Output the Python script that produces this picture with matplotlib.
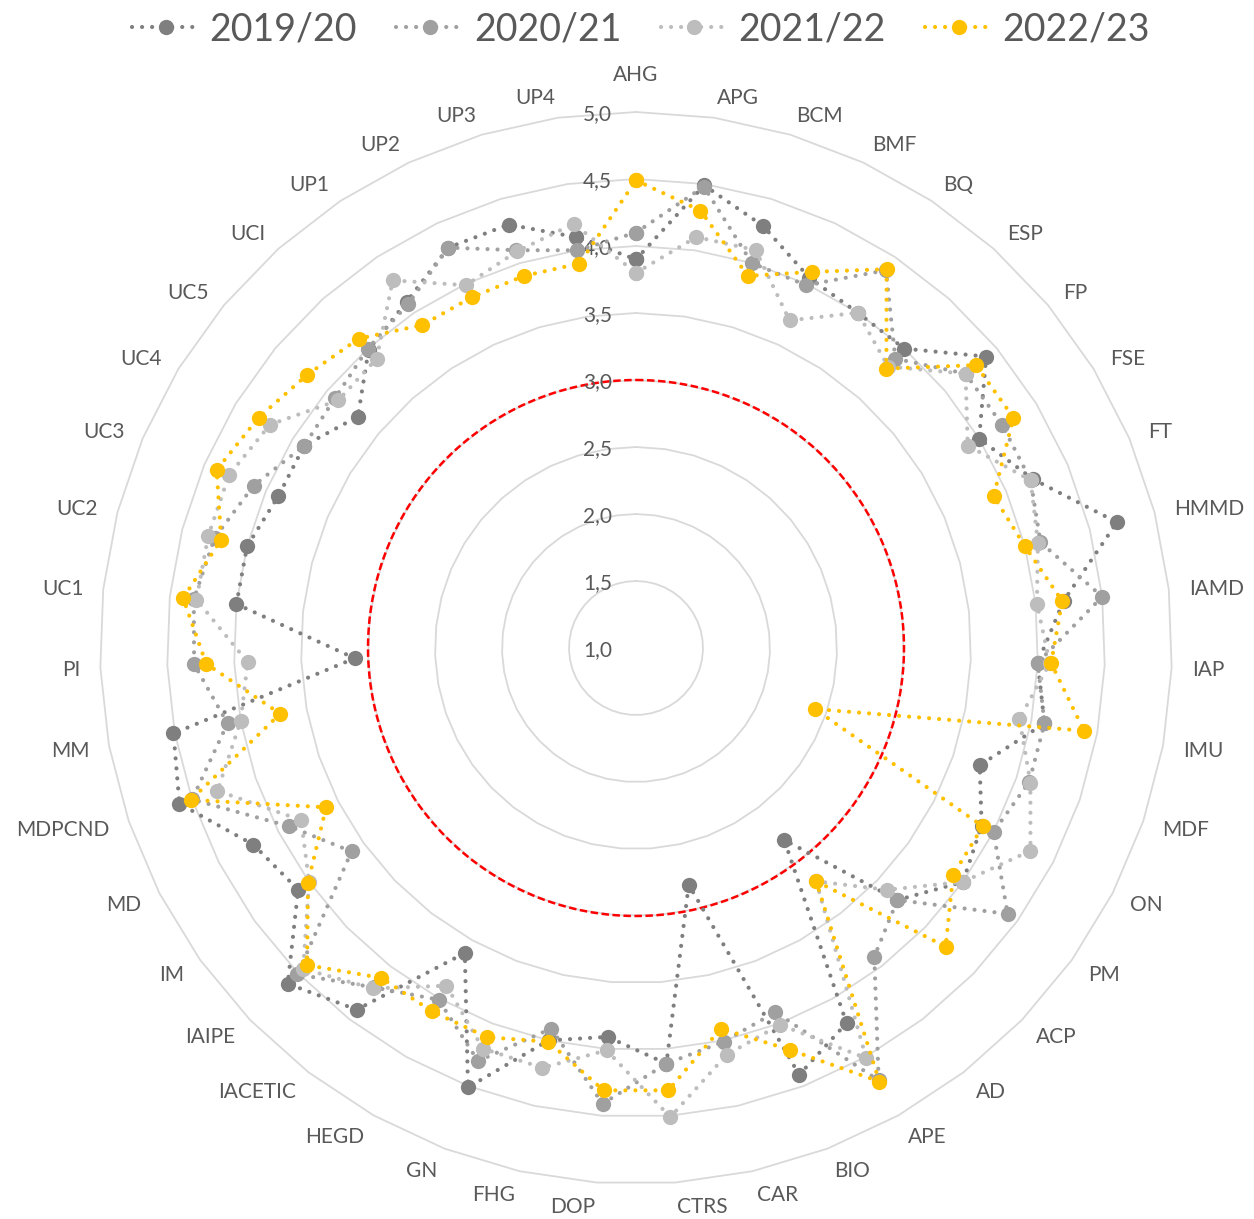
import numpy as np
import matplotlib
matplotlib.use("Agg")
import matplotlib.pyplot as plt
from matplotlib.transforms import ScaledTranslation

plt.rcParams['font.family'] = ['Lato', 'DejaVu Sans']

# ---------------- data ----------------
categories = ['AHG', 'APG', 'BCM', 'BMF', 'BQ', 'ESP', 'FP', 'FSE', 'FT', 'HMMD',
              'IAMD', 'IAP', 'IMU', 'MDF', 'ON', 'PM', 'ACP', 'AD', 'APE', 'BIO',
              'CAR', 'CTRS', 'DOP', 'FHG', 'GN', 'HEGD', 'IACETIC', 'IAIPE', 'IM',
              'MD', 'MDPCND', 'MM', 'PI', 'UC1', 'UC2', 'UC3', 'UC4', 'UC5', 'UCI',
              'UP1', 'UP2', 'UP3', 'UP4']

s_2019_20 = [3.90, 4.49, 4.29, 4.05, 4.00, 4.00, 4.40, 4.00, 4.22, 4.71,
             4.21, 4.00, 4.10, 3.71, 3.90, 4.00, 3.71, 2.81, 4.21, 4.41,
             2.81, 4.11, 3.91, 4.00, 4.51, 3.61, 4.41, 4.61, 4.10,
             4.21, 4.60, 4.51, 3.10, 4.00, 4.00, 3.90, 3.90, 3.70, 3.99,
             4.10, 4.30, 4.30, 4.10]
s_2020_21 = [4.10, 4.48, 4.00, 3.99, 4.38, 3.90, 4.20, 4.20, 4.20, 4.12,
             4.50, 4.00, 4.10, 4.10, 4.00, 4.41, 3.71, 3.91, 4.70, 3.91,
             4.01, 4.11, 4.41, 3.91, 4.30, 4.01, 4.20, 4.51, 3.61,
             3.91, 4.50, 4.10, 4.30, 4.32, 4.25, 4.10, 3.90, 3.92, 4.00,
             4.08, 4.30, 4.10, 4.00]
s_2021_22 = [3.80, 4.10, 4.10, 3.70, 4.00, 3.82, 4.20, 3.90, 4.20, 4.10,
             4.01, 4.09, 3.91, 4.11, 4.31, 4.00, 3.60, 3.20, 4.51, 4.01,
             4.11, 4.51, 4.01, 4.21, 4.20, 3.89, 4.21, 4.45, 4.00,
             3.81, 4.30, 4.00, 3.90, 4.30, 4.30, 4.30, 4.20, 3.89, 3.90,
             4.29, 3.99, 4.09, 4.20]
s_2022_23 = [4.49, 4.30, 3.90, 4.10, 4.39, 3.80, 4.30, 4.30, 3.90, 4.00,
             4.20, 4.10, 4.40, 2.41, 3.91, 3.91, 4.21, 3.20, 4.71, 4.21,
             3.91, 4.31, 4.31, 4.01, 4.11, 4.11, 4.11, 4.41, 4.01,
             3.60, 4.51, 3.70, 4.21, 4.40, 4.20, 4.40, 4.30, 4.19, 4.10,
             3.89, 3.89, 3.90, 3.90]

series_names = ['2019/20', '2020/21', '2021/22', '2022/23']
series_values = [s_2019_20, s_2020_21, s_2021_22, s_2022_23]
series_colors = ['#7F7F7F', '#A0A0A0', '#BDBDBD', '#FFC000']

r_ticks = [1.0, 1.5, 2.0, 2.5, 3.0, 3.5, 4.0, 4.5, 5.0]
r_tick_labels = ['1,0', '1,5', '2,0', '2,5', '3,0', '3,5', '4,0', '4,5', '5,0']
threshold = 3.0

# ---------------- figure ----------------
W, H, DPI = 1254, 1219, 100
fig = plt.figure(figsize=(W / DPI, H / DPI), dpi=DPI)
cx, cy, R = 636, 648, 536
ax = fig.add_axes([(cx - R) / W, (H - cy - R) / H, 2 * R / W, 2 * R / H],
                  projection='polar')
ax.set_theta_zero_location('N')
ax.set_theta_direction(-1)
ax.set_ylim(r_ticks[0], r_ticks[-1])
ax.grid(False)
ax.set_xticks([])
ax.set_yticks([])
ax.spines['polar'].set_visible(False)

n = len(categories)
theta = np.arange(n) * 2 * np.pi / n
theta_closed = np.append(theta, theta[0])

px_per_unit = R / (r_ticks[-1] - r_ticks[0])

# polygonal grid
for r in r_ticks[1:]:
    ax.plot(theta_closed, np.full(n + 1, r), color='#D9D9D9', lw=1.3,
            zorder=1, clip_on=False)

# threshold circle
tt = np.linspace(0, 2 * np.pi, 721)
ax.plot(tt, np.full_like(tt, threshold), color='#FF0000', lw=1.8,
        linestyle=(0, (3.0, 1.4)), zorder=2)

# radial tick labels
lab_tr = ax.transData + ScaledTranslation(-24 / DPI, -2 / DPI, fig.dpi_scale_trans)
for r, lab in zip(r_ticks, r_tick_labels):
    ax.text(0, r, lab, transform=lab_tr, ha='right', va='center',
            fontsize=15, color='#595959', zorder=2.5)

# category labels
r_lab = r_ticks[-1] + 20 / px_per_unit
for th, lab in zip(theta, categories):
    s, c = np.sin(th), np.cos(th)
    dy = -2 + 2 * c
    tr = ax.transData + ScaledTranslation(0, dy / DPI, fig.dpi_scale_trans)
    if abs(s) < 1e-6:
        ax.text(th, r_ticks[-1] + 27 / px_per_unit, lab, transform=tr,
                ha='center', va='bottom', fontsize=15, color='#595959')
    else:
        ax.text(th, r_lab, lab, transform=tr,
                ha='left' if s > 0 else 'right',
                va='center', fontsize=15, color='#595959')

# series
handles = []
for i, (name, vals, col) in enumerate(zip(series_names, series_values, series_colors)):
    v = np.append(np.asarray(vals, dtype=float), vals[0])
    ln, = ax.plot(theta_closed, v, color=col, lw=3.0,
                  linestyle=(0, (0.01, 2.4)), dash_capstyle='round',
                  marker='o', markersize=11, markeredgewidth=0,
                  markerfacecolor=col, zorder=3 + i, clip_on=False,
                  label=name)
    handles.append(ln)

fig.legend(handles=handles, loc='center', bbox_to_anchor=(0.5112, 0.9762),
           ncol=4, frameon=False, fontsize=27, labelcolor='#595959',
           handlelength=1.8, handletextpad=0.27, columnspacing=1.05,
           numpoints=1)

fig.savefig('out.png', dpi=DPI, facecolor='white')
